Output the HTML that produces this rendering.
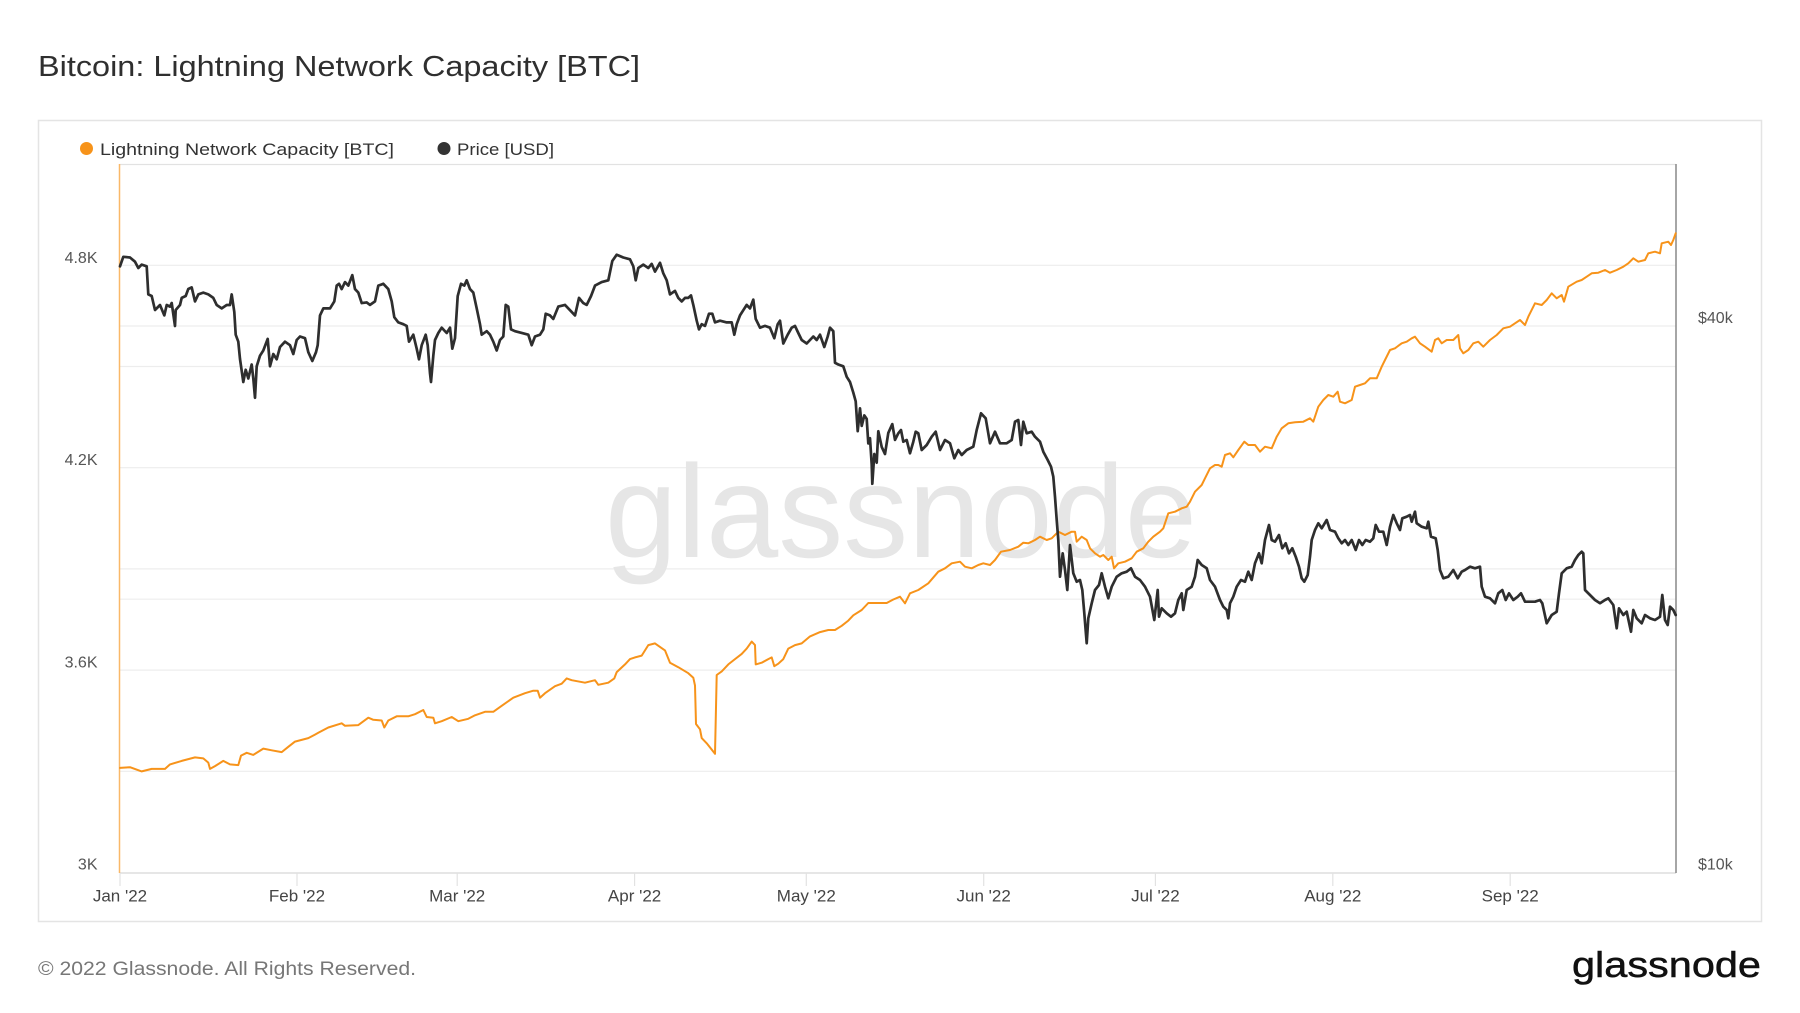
<!DOCTYPE html>
<html>
<head>
<meta charset="utf-8">
<style>
  html, body { margin:0; padding:0; background:#ffffff; }
  body { width:1800px; height:1013px; overflow:hidden; }
  svg { display:block; }
  text { font-family: "Liberation Sans", "DejaVu Sans", sans-serif; }
</style>
</head>
<body>
<svg width="1800" height="1013" viewBox="0 0 1800 1013" xmlns="http://www.w3.org/2000/svg">
  <rect x="0" y="0" width="1800" height="1013" fill="#ffffff"/>

  <!-- Title -->
  <text x="38" y="76" font-size="29" fill="#2f2f2f" textLength="602" lengthAdjust="spacingAndGlyphs">Bitcoin: Lightning Network Capacity [BTC]</text>

  <!-- Chart box -->
  <rect x="38.5" y="120.5" width="1723" height="801" fill="#ffffff" stroke="#e4e4e4" stroke-width="1.5"/>

  <!-- Legend -->
  <circle cx="86.5" cy="148.5" r="6.5" fill="#f7931a"/>
  <text x="100" y="155" font-size="17" fill="#333333" textLength="294" lengthAdjust="spacingAndGlyphs">Lightning Network Capacity [BTC]</text>
  <circle cx="444" cy="148.5" r="6.5" fill="#333333"/>
  <text x="457" y="155" font-size="17" fill="#333333" textLength="97" lengthAdjust="spacingAndGlyphs">Price [USD]</text>

  <!-- Gridlines -->
  <g stroke="#ededed" stroke-width="1.2">
    <line x1="119.5" y1="265.3" x2="1676" y2="265.3"/>
    <line x1="119.5" y1="326" x2="1676" y2="326"/>
    <line x1="119.5" y1="366.5" x2="1676" y2="366.5"/>
    <line x1="119.5" y1="467.7" x2="1676" y2="467.7"/>
    <line x1="119.5" y1="568.9" x2="1676" y2="568.9"/>
    <line x1="119.5" y1="599.2" x2="1676" y2="599.2"/>
    <line x1="119.5" y1="670.1" x2="1676" y2="670.1"/>
    <line x1="119.5" y1="771.3" x2="1676" y2="771.3"/>
  </g>
  <!-- top border of plot -->
  <line x1="119.5" y1="164.5" x2="1676" y2="164.5" stroke="#e2e2e2" stroke-width="1.3"/>
  <!-- bottom axis -->
  <line x1="119.5" y1="873" x2="1676" y2="873" stroke="#dedede" stroke-width="1.5"/>
  <!-- x ticks -->
  <g stroke="#e2e2e2" stroke-width="1.2">
    <line x1="120" y1="873" x2="120" y2="886"/>
    <line x1="297" y1="873" x2="297" y2="886"/>
    <line x1="457.2" y1="873" x2="457.2" y2="886"/>
    <line x1="634.6" y1="873" x2="634.6" y2="886"/>
    <line x1="806.3" y1="873" x2="806.3" y2="886"/>
    <line x1="983.7" y1="873" x2="983.7" y2="886"/>
    <line x1="1155.4" y1="873" x2="1155.4" y2="886"/>
    <line x1="1332.8" y1="873" x2="1332.8" y2="886"/>
    <line x1="1510.2" y1="873" x2="1510.2" y2="886"/>
  </g>

  <!-- Watermark -->
  <text x="605" y="557" font-size="132" fill="#e6e6e6" textLength="592" lengthAdjust="spacingAndGlyphs">glassnode</text>

  <!-- Left axis line (orange) -->
  <line x1="119.5" y1="164" x2="119.5" y2="873" stroke="#f9b868" stroke-width="1.5"/>
  <!-- Right axis line -->
  <line x1="1676" y1="164" x2="1676" y2="873" stroke="#8f8f8f" stroke-width="1.6"/>

  <!-- Left axis labels -->
  <g font-size="16" fill="#555555" text-anchor="end">
    <text x="97.5" y="263">4.8K</text>
    <text x="97.5" y="465">4.2K</text>
    <text x="97.5" y="667.5">3.6K</text>
    <text x="97.5" y="869.5">3K</text>
  </g>
  <!-- Right axis labels -->
  <g font-size="16" fill="#555555">
    <text x="1698" y="323">$40k</text>
    <text x="1698" y="869.5">$10k</text>
  </g>

  <!-- X axis labels -->
  <g font-size="17" fill="#444444" text-anchor="middle">
    <text x="120" y="901.5">Jan '22</text>
    <text x="297" y="901.5">Feb '22</text>
    <text x="457.2" y="901.5">Mar '22</text>
    <text x="634.6" y="901.5">Apr '22</text>
    <text x="806.3" y="901.5">May '22</text>
    <text x="983.7" y="901.5">Jun '22</text>
    <text x="1155.4" y="901.5">Jul '22</text>
    <text x="1332.8" y="901.5">Aug '22</text>
    <text x="1510.2" y="901.5">Sep '22</text>
  </g>

  <!-- Lightning Network Capacity (orange) -->
  <polyline fill="none" stroke="#f7931a" stroke-width="2" stroke-linejoin="round" stroke-linecap="round" points="120,767.9 130,767.2 141.7,771.4 151.7,768.9 165,768.9 170,764.4 181.7,760.9 195,757.4 203.3,758.4 208.3,762.6 210,768.9 215,766.1 223.3,760.9 230,764.4 238.3,765.1 241,755.6 246.7,752.8 253.3,754.9 263.3,748.6 271.7,750.3 281.7,752.1 288.3,746.8 295,741.6 308.3,738.1 315,734.6 318.3,732.8 328.3,727.5 341.7,723.3 345,725.8 358.3,725.1 368.3,717.7 373.3,719.8 381.7,720.5 384.3,727.5 388.3,720.5 396.7,716.3 408.3,716.3 415,714.2 423.3,710 426.7,717 433.3,717.7 435,723.3 441.7,721.2 451.7,717 458.3,721.2 468.3,718.8 475,715.3 485,711.8 493.3,711.8 501.7,705.8 513.3,697.7 525,693.2 533.3,690.7 537.7,690.7 540,697.7 545,693.2 555,686.2 561.7,683.7 566.7,678.4 571.7,680.2 585,682.7 595,680.2 598.3,684.8 608.3,682.7 614.3,678.4 616.7,672.1 625,664.4 630,659.1 635,657.4 641.7,655.6 648.3,645.1 655,643.4 660,646.9 665,650.4 670,662.7 678.3,667.2 688.3,673.2 693.3,677.7 695,685.5 696,724 700,729.3 701.7,738.1 706.7,743.3 715,753.8 716.7,675 721.7,671.4 728.3,664.4 735,659.1 741.7,653.9 746.7,648.6 751.7,641.6 755,645.1 755.7,664.4 761.7,662.7 768.3,659.1 771.7,657.4 774.3,666.2 778.3,663.7 783.3,659.1 788.3,648.6 795,645.1 801.7,643.4 810,636.4 820,632.1 828.3,630 835,630 841.7,625.8 848.3,620.6 853.3,615.3 861.7,610 868.3,603 875,603 886.7,603 893.3,599.5 900,596.7 905,603.3 910,593.3 918.3,590 928.3,583.3 938.3,571.7 945,568.3 951.7,563.3 960,561.7 965,566.7 971.7,568.3 978.3,565 983.3,563.3 990,565 995,560 1001,551.7 1010,550 1018.3,546.7 1023.3,542.7 1028.3,543.3 1035,540 1040,536.7 1046.7,540 1051.7,538.3 1058.3,531.7 1065,535 1071.7,531.7 1075,531.7 1076.7,541.7 1081.7,536.7 1086.7,540 1090,548.3 1095,553.3 1100,556.7 1103.3,555 1108.3,560 1111.7,556.7 1114,568.3 1118.3,563.3 1125,561.7 1131.7,558.3 1136.7,551.7 1143.3,548.3 1148.3,541.7 1153.3,536.7 1160,531.7 1163.3,528.3 1168.3,513.3 1175,511.7 1181.7,508.3 1186.7,506.7 1190,501.7 1195,491.7 1201.7,485 1205,478.3 1210,468.3 1215,465 1218.3,465 1221.7,466.7 1225,455 1230,453.3 1233.3,457.3 1238.3,450 1244.3,441.7 1248.3,445 1255,445 1260,451.7 1265,446.7 1271.7,448.3 1276.7,436.7 1281.7,428.3 1288.3,423.3 1295,422.3 1303.3,421.7 1310,418.3 1313.3,421.7 1318.3,406.7 1323.3,400 1328.3,395 1333.3,396.7 1337.7,391.7 1340,401.7 1345,403.3 1351.7,400 1355,386.7 1360,385 1365,383.3 1370,378.3 1376.7,378.3 1381.7,366.7 1385,360 1390,350 1395,348.3 1401.7,343.3 1406.7,341.7 1411.7,338.3 1415,336.7 1420,343.3 1425,346.7 1431.7,351.7 1435,340 1438.3,338.3 1441.7,343.3 1446.7,340 1453.3,340 1458.3,335 1460,348.3 1463.3,353.3 1468.3,350 1473.3,343.3 1478.3,341.7 1483.3,346.7 1490,340 1496.7,335 1503.3,328.3 1510,326.7 1515,323.3 1520,320 1525,325 1528.3,316.7 1535,303.3 1541.7,305 1546.7,300 1551.7,293.3 1556.7,298.3 1561.7,295 1564,301.7 1568.3,286.7 1576.7,281.7 1581.7,280 1586.7,276.7 1591.7,273.3 1598.3,272.7 1605,270 1610,272.7 1616.7,270 1623.3,266.7 1628.3,263.3 1633.3,258.3 1638.3,261.7 1645,260 1648.3,253.3 1655,251.7 1660,253.3 1661.7,243.3 1668.3,241.7 1671,245 1673.3,240 1675.7,233.3"/>

  <!-- Price (dark) -->
  <polyline fill="none" stroke="#2e2e2e" stroke-width="2.7" stroke-linejoin="round" stroke-linecap="round" points="120,266.3 123.3,256.8 130,257.5 135,261.7 138.3,268 141.7,264.6 146.7,266.3 148.3,294.4 151.7,296 155,310 160,305 164.3,315.4 166.7,305 170,306.6 171.7,303 175,326 175.7,310 180,305 181.7,297.9 185.7,296 188.3,289 191.7,287.4 195,301.4 198.3,294.4 203.3,292.6 208.3,294.4 213.3,297.9 216.7,305 221.7,308.4 226.7,305 230,305 231.7,294.4 234.3,311.9 235.7,334.7 238.3,341.7 240,359 243.3,382 245.7,369.8 248.3,378.5 251.7,364.5 253.3,378.5 255,397.8 256.7,366.3 260,355.7 263.3,350.5 267.7,338.9 270,366.3 273.3,354 276.7,359.3 280,347 285,341.7 290,345.2 293.3,354 296.7,340 300,336.5 305,338.2 308.3,352.2 312.3,361 316,352.2 317.7,345.2 320,315.4 323.3,308.4 330,308.4 334.3,301.4 336.7,285.6 339,283.8 341.7,289.1 345,282.1 348.3,285.6 352.3,275.1 355,289.1 358.3,292.6 361.7,303.1 366.7,302.4 370,304.9 375,301.4 378.3,285.6 383.3,283.8 388.3,289.1 391.7,301.4 394.3,317.2 398.3,322.4 403.3,324.2 406.7,325.9 409,341.7 413.3,334.7 416.7,348.7 419,359.3 421.7,345.2 425.7,334.7 427.7,345.2 430,373.3 431,382 433.3,355.7 435,340 438.3,333 441.7,327.7 446.7,333 450,327.7 452.3,348.7 455,338.2 457.7,296.1 461,283.8 464.3,285.6 466.7,280.3 470,289.1 473.3,292.6 476.7,308.4 480,324.2 481.7,334.7 486.7,331.2 490,334.7 493.3,341.7 496.7,350.5 500,340 503.3,336.5 505.7,304.9 508.3,306.6 511,329.4 515,331.2 521.7,332.9 528.3,334.7 531.7,345.2 535,336.5 540,334.7 543.3,329.4 545.7,313.7 550,315.4 553.3,318.9 558.3,306.6 565,304.9 570,310.2 575,315.4 579,297.9 583.3,303.1 586.7,304.9 591,296.1 595,285.6 601.7,282.1 608.3,280.3 612.3,261 616.7,254.7 623.3,257.5 630,259.3 633.3,266.3 635.7,280.3 638.3,268 643.3,264.6 648.3,268 651.7,263.9 655,271.6 660,262.8 663.3,273.3 666.7,280.3 670,294.4 675,290.9 678.3,297.9 681.7,301.4 685,297.9 688.3,297.9 691,295.4 693.3,304.9 696.7,320.7 699,329.4 701.7,324.2 705,325.9 709,313.7 712.3,313.7 715,322.4 720,320.7 726.7,322.4 731.7,322.4 734.3,334.7 736.7,324.2 740,315.4 743.3,310.2 746.7,304.9 750,308.4 753.3,299.6 755.7,318.9 760,327.7 765,325.9 770,327.7 774.3,338.2 777.7,324.2 780,320.7 783.3,343.5 787.7,334.7 791.7,327.7 795,325.9 798.3,333 801.7,340 806.7,343.5 810,340 813.3,336.5 816.7,340 820,334.7 824.3,347 827.7,336.5 830,327.7 833.3,331.2 835,362.8 838.3,364.5 843.3,366.3 846.7,376.8 850,382 853.3,392.6 855.7,401.3 857.7,431.2 860,408.4 861.7,425.9 864.3,415.4 866.7,418.9 868.3,443.4 870,438.2 871.7,464.5 872.3,483.8 874.3,454 876.7,462.7 878.3,431.2 881.7,446.9 885,454 888.3,432.9 892.3,424.1 895,439.9 898.3,433.3 901,430 903.3,441.7 906.7,440 910,453.3 913.3,441.7 915.7,431.7 918.3,433.3 921.7,450 926.7,445 931.7,436.7 935.7,431.7 940,450 945,440 950,443.3 954.3,458.3 958.3,450 961.7,455 966.7,450 973.3,446.7 976.7,430 981,413.3 985.7,418.3 990,443.3 995,431.7 1000,443.3 1006.7,443.3 1011.7,440 1015,421.7 1018.3,420 1021,445 1023.3,421.7 1026.7,433.3 1031.7,431.7 1035,436.7 1040,441.7 1043.3,451.7 1047.7,460 1051,466.7 1053.3,476.7 1055,496.7 1056.7,520 1058.3,540 1060,576.7 1062.7,553.3 1065,570 1067.3,590 1070,545 1073.3,573.3 1076.7,581.7 1080,580 1082.3,590 1084.3,613.3 1086.7,643.3 1088.3,618.3 1091.7,603.3 1095,590 1099,585 1101.7,573.3 1105,586.7 1108.3,598.3 1111.7,586.7 1116.7,576.7 1121.7,573.3 1126.7,571.7 1131,568.3 1135,576.7 1140,580 1145,586.7 1150,596.7 1154.3,620 1157.7,590 1159,616.7 1161.7,608.3 1166.7,613.3 1171,616.7 1175,613.3 1178.3,600 1181.7,593.3 1183.3,610 1186.7,590 1191.7,586.7 1195,576.7 1197.7,560 1201.7,565 1206.7,568.3 1210,580 1215,586.7 1220,600 1223.3,606.7 1226.7,610 1228.3,618.3 1230,603.3 1233.3,596.7 1236.7,586.7 1241,580 1245,581.7 1248.3,571.7 1251.7,580 1255,563.3 1259,553.3 1261.7,563.3 1265,540 1269,525 1271.7,540 1275,541.7 1279,535 1282.3,548.3 1285.7,543.3 1289,553.3 1292.3,548.3 1295.7,556.7 1299,566.7 1301.7,578.3 1304.3,581.7 1307.7,575 1310,556.7 1311.7,540 1315,530 1318.3,523.3 1321.7,528.3 1326.7,520 1330,530 1335,531.7 1338.3,538.3 1341.7,543.3 1345,540 1348.3,545 1351.7,540 1355.7,550 1359,540 1362.3,545 1365.7,540 1370,541.7 1373.3,538.3 1375.7,525 1379,531.7 1383.3,531.7 1386.7,545 1390,526.7 1393.3,515 1396.7,523.3 1400,530 1402.3,518.3 1406.7,516.7 1410,515 1411.7,521.7 1415,511.7 1416.7,523.3 1421.7,526.7 1426.7,528.3 1428.3,521.7 1431,536.7 1435.7,538.3 1437.7,550 1440,570 1443.3,578.3 1448.3,576.7 1453.3,570 1457.7,578.3 1461.7,571.7 1465,570 1470,566.7 1475,568.3 1480,566.7 1481.7,586.7 1485,596.7 1490,598.3 1495,603.3 1498.3,593.3 1502.3,590 1505.7,600 1509,593.3 1513.3,600 1517.7,596.7 1521,593.3 1525,601.7 1530,601.7 1535,601.7 1540,600 1542.3,603.3 1546.7,623.3 1551.7,615 1556.7,611.7 1559,593.3 1561.7,573.3 1566.7,568.3 1571.7,566.7 1575,560 1578.3,555 1581.7,551.7 1583.3,553.3 1585,590 1590,595 1595,600 1600,603.3 1605,600 1608.3,598.3 1613.3,605 1616.7,628.3 1619,608.3 1623.3,615 1626.7,611.7 1631,631.7 1633.3,610 1636.7,618.3 1641.7,623.3 1645,615 1650,618.3 1655,620 1660,616.7 1662.3,595 1665,620 1667.7,625 1670,606.7 1673.3,610 1675.7,615"/>

  <!-- Footer -->
  <text x="38" y="975" font-size="19" fill="#777777" textLength="378" lengthAdjust="spacingAndGlyphs">© 2022 Glassnode. All Rights Reserved.</text>
  <text x="1572" y="977" font-size="36" fill="#111111" stroke="#111111" stroke-width="0.5" textLength="189" lengthAdjust="spacingAndGlyphs">glassnode</text>
</svg>
</body>
</html>
